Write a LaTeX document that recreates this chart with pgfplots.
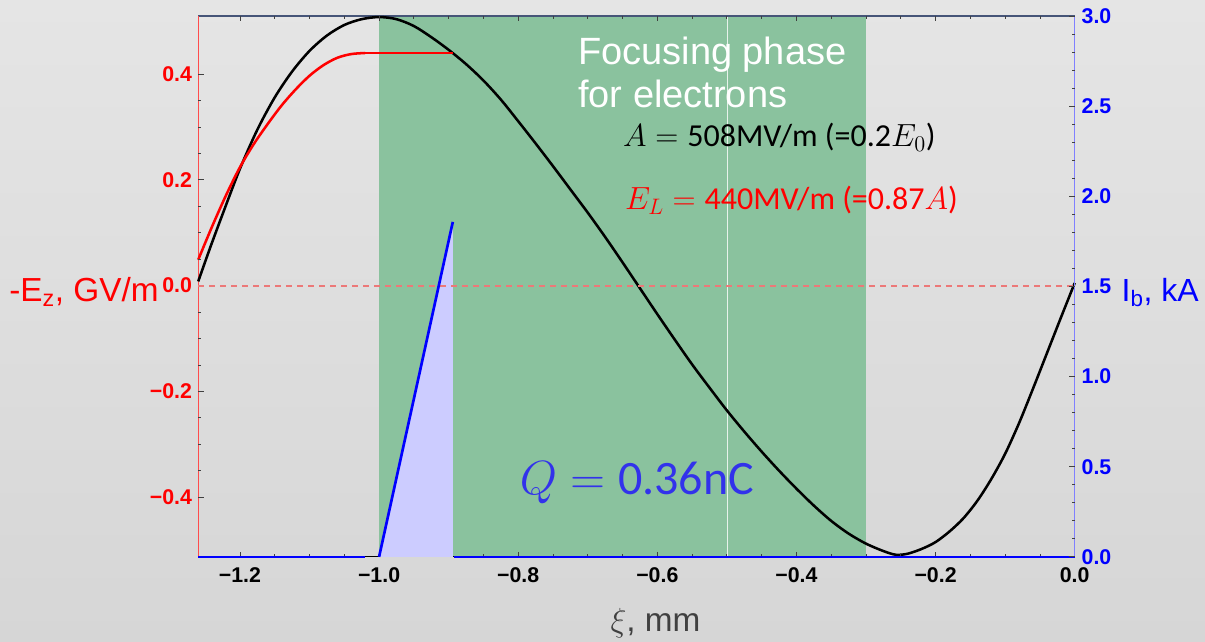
\RequirePackage{fix-cm}
\documentclass[border=0pt]{standalone}
\usepackage{fontspec}
\setmainfont{Liberation Sans}
\newfontfamily\calibri{Carlito}
\usepackage{pgfplots}
\pgfplotsset{compat=1.18}

\definecolor{bgtop}{RGB}{229,229,229}
\definecolor{bgbot}{RGB}{214,214,214}
\definecolor{focus}{RGB}{138,194,158}
\definecolor{beamfill}{RGB}{204,204,255}
\definecolor{qblue}{RGB}{50,50,235}
\definecolor{topline}{RGB}{70,85,120}
\definecolor{lblgray}{RGB}{64,64,64}
\definecolor{dashred}{RGB}{236,120,120}

\begin{document}
\begin{tikzpicture}
% background of the whole slide
\shade[top color=bgtop, bottom color=bgbot] (-148.7pt,-63.75pt) rectangle (755.25pt,417.75pt);

\pgfplotsset{
  common/.style={
    width=657.5pt, height=405.75pt, scale only axis,
    xmin=-1.26, xmax=0,
    axis line style={draw=none},
    axis on top, clip=false,
    tick align=inside,
    major tick length=4pt, minor tick length=2.4pt,
    tick style={black!75, line width=0.6pt},
    tick label style={font=\fontsize{16}{19}\selectfont\bfseries},
  }
}

% left axis: -E_z in GV/m
\begin{axis}[common,
  ymin=-0.513, ymax=0.51,
  xtick={-1.2,-1.0,-0.8,-0.6,-0.4,-0.2,0},
  xticklabels={−1.2,−1.0,−0.8,−0.6,−0.4,−0.2,0.0},
  minor x tick num=3, xtick pos=both, xticklabel pos=left,
  xticklabel style={anchor=north, inner sep=0pt, yshift=-8pt},
  ytick={-0.4,-0.2,0,0.2,0.4},
  yticklabels={−0.4,−0.2,0.0,0.2,0.4},
  minor y tick num=3, ytick pos=left,
  yticklabel style={red, anchor=east, inner sep=0pt, xshift=-4.5pt},
]
  \fill[focus] (axis cs:-1,-0.513) rectangle (axis cs:-0.3,0.51);
  \draw[white, opacity=0.8, line width=0.5pt] (axis cs:-0.5,-0.513) -- (axis cs:-0.5,0.51);
  \draw[topline, line width=1.5pt] (rel axis cs:0,1) -- (rel axis cs:1,1);
  \draw[red!70, line width=0.7pt] (rel axis cs:0,0) -- (rel axis cs:0,1);
  \draw[black, line width=0.8pt] (rel axis cs:0,0) -- (rel axis cs:1,0);

  % wakefield
  \addplot[black, line width=1.9pt, smooth] coordinates {
    (-1.26,0.008) (-1.2425,0.073) (-1.225,0.135) (-1.2,0.221) (-1.175,0.295)
    (-1.15,0.356) (-1.125,0.405) (-1.1,0.444) (-1.075,0.473) (-1.05,0.493)
    (-1.025,0.504) (-1.0,0.508) (-0.975,0.504) (-0.95,0.491) (-0.925,0.470)
    (-0.9,0.446) (-0.875,0.419) (-0.85,0.388) (-0.825,0.352) (-0.8,0.311)
    (-0.775,0.269) (-0.75,0.226) (-0.725,0.182) (-0.7,0.138) (-0.675,0.092)
    (-0.65,0.044) (-0.625,-0.005) (-0.6,-0.054) (-0.575,-0.102) (-0.55,-0.149)
    (-0.525,-0.193) (-0.5,-0.236) (-0.475,-0.276) (-0.45,-0.314) (-0.425,-0.350)
    (-0.4,-0.384) (-0.375,-0.416) (-0.35,-0.445) (-0.325,-0.469) (-0.3,-0.488)
    (-0.275,-0.502) (-0.257,-0.509) (-0.24,-0.507) (-0.22,-0.498) (-0.2,-0.485)
    (-0.18,-0.465) (-0.16,-0.440) (-0.14,-0.407) (-0.12,-0.366) (-0.1,-0.318)
    (-0.08,-0.260) (-0.06,-0.195) (-0.04,-0.128) (-0.02,-0.061) (0,0.005)
  };
  % laser field
  \addplot[red, line width=1.9pt, smooth] coordinates {
    (-1.26,0.049) (-1.24,0.112) (-1.22,0.171) (-1.2,0.224) (-1.18,0.268)
    (-1.16,0.306) (-1.14,0.341) (-1.12,0.371) (-1.1,0.397) (-1.08,0.417)
    (-1.06,0.431) (-1.04,0.438) (-1.02,0.440)
  };
  \addplot[red, line width=1.9pt] coordinates {(-1.02,0.44) (-0.894,0.44)};
\end{axis}

% right axis: beam current in kA
\begin{axis}[common,
  ymin=0, ymax=3,
  xtick=\empty,
  ytick={0,0.5,1,1.5,2,2.5,3},
  yticklabels={0.0,0.5,1.0,1.5,2.0,2.5,3.0},
  minor y tick num=4, ytick pos=right, yticklabel pos=right,
  yticklabel style={blue, anchor=west, inner sep=0pt, xshift=5pt},
]
  \addplot[fill=beamfill, draw=none] coordinates {(-1,0) (-0.894,1.858) (-0.894,0)} -- cycle;
  \addplot[color=dashred, line width=1.2pt, dash pattern=on 4.5pt off 3.75pt] coordinates {(-1.26,1.504) (0,1.504)};
  \draw[blue!50, line width=0.8pt] (rel axis cs:1,0) -- (rel axis cs:1,1);
  \addplot[blue, line width=2pt] coordinates {(-1.26,0) (-1.02,0)};
  \addplot[blue, line width=2pt] coordinates {(-1,0) (-0.894,1.858)};
  \addplot[blue, line width=2pt] coordinates {(-0.893,0) (0,0)};
\end{axis}

% annotations
\node[anchor=base west, white, inner sep=0pt, font=\fontsize{28.5}{34}\selectfont] at (284.8pt,369pt) {Focusing phase};
\node[anchor=base west, white, inner sep=0pt, font=\fontsize{28.5}{34}\selectfont] at (284.8pt,336.75pt) {for electrons};
\node[anchor=base west, black, inner sep=0pt, font=\calibri\fontsize{24}{29}\selectfont] at (318.5pt,307.5pt) {$A = {}$508MV/m (=0.2$E_0$)};
\node[anchor=base west, red, inner sep=0pt, font=\calibri\fontsize{24}{29}\selectfont] at (320pt,260.25pt) {$E_L = {}$440MV/m (=0.87$A$)};
\node[anchor=base west, qblue, inner sep=0pt, font=\calibri\fontsize{36}{43}\selectfont] at (241pt,46.5pt) {$Q = {}$0.36nC};

% axis labels
\node[anchor=base east, red, inner sep=0pt, font=\fontsize{25}{30}\selectfont] at (-29.5pt,191.5pt) {-E\textsubscript{z}, GV/m};
\node[anchor=base west, blue, inner sep=0pt, font=\fontsize{24}{29}\selectfont] at (692.5pt,191.5pt) {I\textsubscript{b}, kA};
\node[anchor=base, lblgray, inner sep=0pt, font=\fontsize{25}{30}\selectfont] at (343pt,-56.25pt) {$\xi$, mm};
\end{tikzpicture}
\end{document}
